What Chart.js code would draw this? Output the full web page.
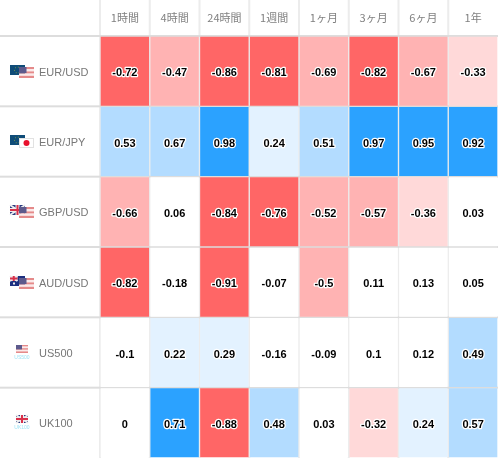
<!DOCTYPE html>
<html>
<head>
<meta charset="utf-8">
<style>
  html, body { margin: 0; padding: 0; background: #fff; }
  canvas { display: block; }
</style>
</head>
<body>
<canvas id="heat" width="498" height="458"></canvas>
<script src="https://cdn.jsdelivr.net/npm/chart.js@4"></script>
<script>
const periods = ['1時間', '4時間', '24時間', '1週間', '1ヶ月', '3ヶ月', '6ヶ月', '1年'];
const symbols = ['EUR/USD', 'EUR/JPY', 'GBP/USD', 'AUD/USD', 'US500', 'UK100'];

const eurUsd = [-0.72, -0.47, -0.86, -0.81, -0.69, -0.82, -0.67, -0.33];
const eurJpy = [0.53, 0.67, 0.98, 0.24, 0.51, 0.97, 0.95, 0.92];
const gbpUsd = [-0.66, 0.06, -0.84, -0.76, -0.52, -0.57, -0.36, 0.03];
const audUsd = [-0.82, -0.18, -0.91, -0.07, -0.5, 0.11, 0.13, 0.05];
const us500 = [-0.1, 0.22, 0.29, -0.16, -0.09, 0.1, 0.12, 0.49];
const uk100 = [0, 0.71, -0.88, 0.48, 0.03, -0.32, 0.24, 0.57];
const rows = [eurUsd, eurJpy, gbpUsd, audUsd, us500, uk100];

// same buckets as the site: white under 0.2, then three steps per sign
function cellColor(v) {
  const a = Math.abs(v);
  if (a < 0.2) return '#ffffff';
  if (v < 0) return a >= 0.7 ? '#ff6666' : a >= 0.4 ? '#ffb3b3' : '#ffd9d9';
  return a >= 0.7 ? '#2ba2ff' : a >= 0.4 ? '#b3dcff' : '#e3f2ff';
}

function flagEu(c, x, y) {
  c.fillStyle = '#0f4c78';
  c.fillRect(x, y, 15, 10);
  c.fillStyle = '#6c8f4e';
  for (let a = 0; a < 6; a++) {
    c.fillRect(x + 7 + Math.cos(a) * 3, y + 4.5 + Math.sin(a) * 3, 1, 1);
  }
}

function flagUs(c, x, y, w, h) {
  for (let i = 0; i < 5; i++) {
    c.fillStyle = i % 2 ? '#fbeaea' : '#e58a8a';
    c.fillRect(x, y + i * h / 5, w, h / 5);
  }
  c.fillStyle = '#5d5a8c';
  c.fillRect(x, y, w * 0.5, h * 0.55);
}

function flagJp(c, x, y) {
  c.fillStyle = '#ffffff';
  c.fillRect(x, y, 15, 10);
  c.strokeStyle = '#e2e2e2';
  c.lineWidth = 1;
  c.strokeRect(x + 0.5, y + 0.5, 14, 9);
  c.fillStyle = '#e8112d';
  c.beginPath();
  c.arc(x + 7.5, y + 5, 3, 0, Math.PI * 2);
  c.fill();
}

function flagUk(c, x, y, w, h) {
  c.fillStyle = '#2b3a80';
  c.fillRect(x, y, w, h);
  c.strokeStyle = '#eeeeee';
  c.lineWidth = 2;
  c.beginPath();
  c.moveTo(x, y);
  c.lineTo(x + w, y + h);
  c.moveTo(x + w, y);
  c.lineTo(x, y + h);
  c.stroke();
  c.fillStyle = '#eeeeee';
  c.fillRect(x + w / 2 - 2, y, 4, h);
  c.fillRect(x, y + h / 2 - 2, w, 4);
  c.fillStyle = '#d9304a';
  c.fillRect(x + w / 2 - 1, y, 2, h);
  c.fillRect(x, y + h / 2 - 1, w, 2);
}

function flagAu(c, x, y) {
  c.fillStyle = '#1c2f80';
  c.fillRect(x, y, 15, 10);
  flagUk(c, x, y, 7.5, 5);
  c.fillStyle = '#eeeeee';
  c.fillRect(x + 3, y + 6.5, 2, 2);
  c.fillRect(x + 10, y + 2, 1, 1);
  c.fillRect(x + 12, y + 4, 1, 1);
  c.fillRect(x + 10, y + 7, 1, 1);
}

function indexTag(c, text, cx, y) {
  c.font = '5px "Liberation Sans"';
  c.fillStyle = '#9fe3f5';
  c.textAlign = 'center';
  c.textBaseline = 'middle';
  c.fillText(text, cx, y);
}

const gridPlugin = {
  id: 'grid',
  beforeDatasetsDraw(chart) {
    const c = chart.ctx;
    const xs = chart.scales.x;
    const ys = chart.scales.y;
    c.save();
    c.fillStyle = '#ececec';
    periods.forEach((p, i) => {
      const left = xs.getPixelForValue(i) - xs.width / periods.length / 2;
      c.fillRect(left - 1, 0, 2, chart.height);
    });
    c.fillStyle = '#dddddd';
    symbols.forEach((s, i) => {
      c.fillRect(0, ys.getPixelForValue(i) - 1, chart.width, 2);
    });
    c.restore();
  },
};

const valuePlugin = {
  id: 'values',
  afterDatasetsDraw(chart) {
    const c = chart.ctx;
    c.save();
    c.font = 'bold 11px "Liberation Sans"';
    c.textAlign = 'center';
    c.textBaseline = 'middle';
    c.lineJoin = 'round';
    rows.forEach((row, r) => {
      chart.getDatasetMeta(r).data.forEach((bar, i) => {
        const y = (bar.y + bar.base) / 2 + 2;
        c.strokeStyle = '#ffffff';
        c.lineWidth = 2.5;
        c.strokeText(String(row[i]), bar.x, y);
        c.fillStyle = '#000000';
        c.fillText(String(row[i]), bar.x, y);
      });
    });
    c.restore();
  },
};

const flagPlugin = {
  id: 'flags',
  afterDraw(chart) {
    const c = chart.ctx;
    const ys = chart.scales.y;
    const mid = i => Math.round(ys.getPixelForValue(i + 0.5));
    c.save();
    flagEu(c, 10, mid(0) - 6);
    flagUs(c, 19, mid(0) - 4, 15, 11);
    flagEu(c, 10, mid(1) - 7);
    flagJp(c, 19, mid(1) - 4);
    flagUk(c, 10, mid(2) - 7, 15, 10);
    flagUs(c, 19, mid(2) - 5, 15, 11);
    flagAu(c, 10, mid(3) - 6);
    flagUs(c, 19, mid(3) - 4, 15, 11);
    flagUs(c, 16, mid(4) - 8, 12, 8);
    indexTag(c, 'US500', 22, mid(4) + 5);
    flagUk(c, 16, mid(5) - 8, 12, 8);
    indexTag(c, 'UK100', 22, mid(5) + 5);
    c.restore();
  },
};

const datasets = rows.map((row, r) => ({
  label: symbols[r],
  data: row.map(() => 1),
  backgroundColor: row.map(cellColor),
  borderColor: 'transparent',
  borderWidth: 1,
  borderSkipped: false,
  barPercentage: 1,
  categoryPercentage: 1,
}));

new Chart('heat', {
  type: 'bar',
  data: { labels: periods, datasets },
  options: {
    animation: false,
    responsive: false,
    layout: { padding: { left: 39 } },
    plugins: {
      legend: { display: false },
      tooltip: { enabled: false },
    },
    scales: {
      x: {
        position: 'top',
        stacked: true,
        grid: { display: false },
        border: { display: false },
        afterFit(scale) {
          scale.height = 36;
          scale.paddingLeft = 0;
          scale.paddingRight = 0;
        },
        ticks: {
          color: '#808080',
          font: { family: '"Noto Sans CJK JP"', size: 11 },
          maxRotation: 0,
          padding: 4,
        },
      },
      y: {
        stacked: true,
        reverse: true,
        min: 0,
        max: 6,
        grid: { display: false },
        border: { display: false },
        afterBuildTicks(scale) {
          // a touch under the row centre, like the site's labels
          scale.ticks = symbols.map((s, i) => ({ value: i + 0.52 }));
        },
        afterFit(scale) {
          scale.width = 61;
          scale.paddingTop = 0;
          scale.paddingBottom = 0;
        },
        ticks: {
          color: '#777777',
          font: { family: '"Liberation Sans"', size: 11 },
          crossAlign: 'far',
          autoSkip: false,
          callback: v => symbols[Math.floor(v)],
        },
      },
    },
  },
  plugins: [gridPlugin, valuePlugin, flagPlugin],
});
</script>
</body>
</html>
